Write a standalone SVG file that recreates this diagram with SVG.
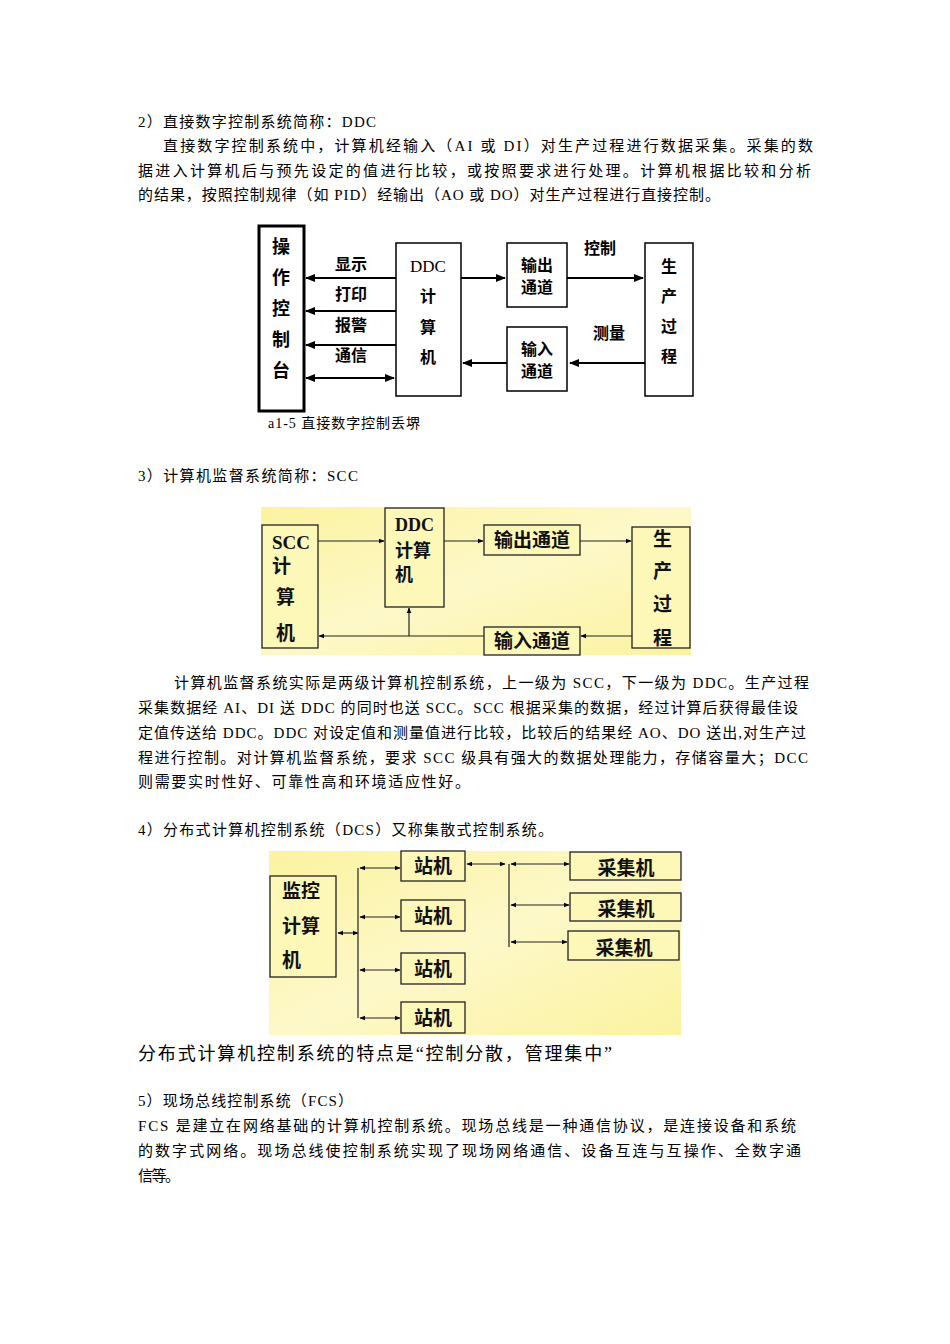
<svg xmlns="http://www.w3.org/2000/svg" width="950" height="1344" viewBox="0 0 950 1344">
<defs>
<marker id="a" viewBox="0 0 10 10" refX="9" refY="5" markerWidth="5" markerHeight="5" orient="auto-start-reverse"><path d="M0,1 L10,5 L0,9 z" fill="#000"/></marker>
<linearGradient id="y" x1="0" y1="0" x2="1" y2="1"><stop offset="0" stop-color="#fbf3a0"/><stop offset="0.5" stop-color="#fdf8c8"/><stop offset="1" stop-color="#fbf3a0"/></linearGradient>
<style>
.t{font-family:"Liberation Serif","Noto Sans CJK SC",serif;font-size:15px;fill:#000}
.b{fill:#fff;stroke:#000;stroke-width:1.5}
.bb{fill:#fff;stroke:#000;stroke-width:3}
.yb{fill:#fdf7b8;stroke:#222;stroke-width:1.3}
.l{stroke:#000;stroke-width:2;fill:none}
.l2{stroke:#222;stroke-width:1.2;fill:none}
.k{font-family:"Noto Sans CJK SC",sans-serif;font-weight:bold;font-size:16px;fill:#000}
.k2{font-family:"Noto Sans CJK SC",serif;font-weight:bold;font-size:19px;fill:#111}
</style>
</defs>
<rect width="950" height="1344" fill="#fff"/>
<g id="text1" class="t" lengthAdjust="spacing">
<text x="138" y="127" textLength="238">2）直接数字控制系统简称：DDC</text>
<text x="163" y="151" textLength="650">直接数字控制系统中，计算机经输入（AI 或 DI）对生产过程进行数据采集。采集的数</text>
<text x="138" y="176" textLength="673">据进入计算机后与预先设定的值进行比较，或按照要求进行处理。计算机根据比较和分析</text>
<text x="138" y="200" textLength="582">的结果，按照控制规律（如 PID）经输出（AO 或 DO）对生产过程进行直接控制。</text>
<text x="268" y="428" style="font-size:14px" textLength="152">a1-5 直接数字控制丢堺</text>
<text x="138" y="481" textLength="220">3）计算机监督系统简称：SCC</text>
<text x="174" y="688" textLength="635">计算机监督系统实际是两级计算机控制系统，上一级为 SCC，下一级为 DDC。生产过程</text>
<text x="138" y="713" textLength="660">采集数据经 AI、DI 送 DDC 的同时也送 SCC。SCC 根据采集的数据，经过计算后获得最佳设</text>
<text x="138" y="738" textLength="668">定值传送给 DDC。DDC 对设定值和测量值进行比较，比较后的结果经 AO、DO 送出,对生产过</text>
<text x="138" y="763" textLength="670">程进行控制。对计算机监督系统，要求 SCC 级具有强大的数据处理能力，存储容量大；DCC</text>
<text x="138" y="787" textLength="332">则需要实时性好、可靠性高和环境适应性好。</text>
<text x="138" y="835" textLength="415">4）分布式计算机控制系统（DCS）又称集散式控制系统。</text>
<text x="138" y="1060" style="font-size:18px" textLength="474">分布式计算机控制系统的特点是“控制分散，管理集中”</text>
<text x="138" y="1106" textLength="215">5）现场总线控制系统（FCS）</text>
<text x="138" y="1131" textLength="658">FCS 是建立在网络基础的计算机控制系统。现场总线是一种通信协议，是连接设备和系统</text>
<text x="138" y="1156" textLength="663">的数字式网络。现场总线使控制系统实现了现场网络通信、设备互连与互操作、全数字通</text>
<text x="138" y="1181" textLength="42">信等。</text>
</g>
<!-- Diagram 1 -->
<g id="d1-console"><rect class="bb" x="259" y="226" width="45" height="185"/>
<text class="k" x="272" y="253" style="font-size:18px">操</text><text class="k" x="272" y="284" style="font-size:18px">作</text><text class="k" x="272" y="315" style="font-size:18px">控</text><text class="k" x="272" y="346" style="font-size:18px">制</text><text class="k" x="272" y="377" style="font-size:18px">台</text></g>
<g id="d1-ddc"><rect class="b" x="396" y="243" width="65" height="153"/>
<text class="t" x="428" y="272" text-anchor="middle" style="font-size:17px">DDC</text><text class="k" x="428" y="302" text-anchor="middle">计</text><text class="k" x="428" y="333" text-anchor="middle">算</text><text class="k" x="428" y="363" text-anchor="middle">机</text></g>
<g id="d1-out"><rect class="b" x="507" y="243" width="60" height="64"/><text class="k" x="537" y="271" text-anchor="middle">输出</text><text class="k" x="537" y="293" text-anchor="middle">通道</text></g>
<g id="d1-in"><rect class="b" x="507" y="327" width="60" height="64"/><text class="k" x="537" y="355" text-anchor="middle">输入</text><text class="k" x="537" y="377" text-anchor="middle">通道</text></g>
<g id="d1-proc"><rect class="b" x="645" y="243" width="48" height="153"/>
<text class="k" x="669" y="272" text-anchor="middle">生</text><text class="k" x="669" y="302" text-anchor="middle">产</text><text class="k" x="669" y="332" text-anchor="middle">过</text><text class="k" x="669" y="362" text-anchor="middle">程</text></g>
<g id="d1-connectors">
<line class="l" x1="396" y1="278" x2="306" y2="278" marker-end="url(#a)"/>
<line class="l" x1="396" y1="311" x2="306" y2="311" marker-end="url(#a)"/>
<line class="l" x1="396" y1="345" x2="306" y2="345" marker-end="url(#a)"/>
<line class="l" x1="306" y1="378" x2="394" y2="378" marker-start="url(#a)" marker-end="url(#a)"/>
<line class="l" x1="461" y1="278" x2="505" y2="278" marker-end="url(#a)"/>
<line class="l" x1="567" y1="278" x2="643" y2="278" marker-end="url(#a)"/>
<line class="l" x1="645" y1="363" x2="570" y2="363" marker-end="url(#a)"/>
<line class="l" x1="507" y1="363" x2="463" y2="363" marker-end="url(#a)"/>
<text class="k" x="335" y="270">显示</text><text class="k" x="335" y="300">打印</text><text class="k" x="335" y="331">报警</text><text class="k" x="335" y="361">通信</text>
<text class="k" x="584" y="254">控制</text><text class="k" x="593" y="339">测量</text>
</g>
<!-- Diagram 2 -->
<rect x="261" y="507" width="430" height="148" fill="url(#y)"/>
<g id="d2-scc"><rect class="yb" x="262" y="525" width="56" height="123"/>
<text class="k2" x="272" y="549" style="font-family:'Liberation Serif',serif">SCC</text><text class="k2" x="272" y="573">计</text><text class="k2" x="276" y="604">算</text><text class="k2" x="276" y="640">机</text></g>
<g id="d2-ddc"><rect class="yb" x="385" y="508" width="59" height="99"/>
<text class="k2" x="395" y="531" style="font-family:'Liberation Serif',serif;font-size:18px">DDC</text><text class="k2" x="395" y="557" style="font-size:18px">计算</text><text class="k2" x="395" y="581" style="font-size:18px">机</text></g>
<g id="d2-out"><rect class="yb" x="484" y="525" width="96" height="30"/><text class="k2" x="532" y="547" text-anchor="middle">输出通道</text></g>
<g id="d2-in"><rect class="yb" x="484" y="627" width="96" height="28"/><text class="k2" x="532" y="648" text-anchor="middle">输入通道</text></g>
<g id="d2-proc"><rect class="yb" x="632" y="527" width="58" height="121"/>
<text class="k2" x="653" y="546">生</text><text class="k2" x="653" y="578">产</text><text class="k2" x="653" y="611">过</text><text class="k2" x="653" y="645">程</text></g>
<g id="d2-connectors">
<line class="l2" x1="318" y1="541" x2="384" y2="541" marker-end="url(#a)"/>
<line class="l2" x1="444" y1="541" x2="483" y2="541" marker-end="url(#a)"/>
<line class="l2" x1="580" y1="541" x2="631" y2="541" marker-end="url(#a)"/>
<line class="l2" x1="632" y1="636" x2="581" y2="636" marker-end="url(#a)"/>
<line class="l2" x1="484" y1="636" x2="319" y2="636" marker-end="url(#a)"/>
<line class="l2" x1="409" y1="636" x2="409" y2="608" marker-end="url(#a)"/>
</g>
<!-- Diagram 3 -->
<rect x="269" y="851" width="412" height="184" fill="url(#y)"/>
<g id="d3-main"><rect class="yb" x="270" y="876" width="66" height="101"/>
<text class="k2" x="282" y="898">监控</text><text class="k2" x="282" y="933">计算</text><text class="k2" x="282" y="967">机</text></g>
<g id="d3-s1"><rect class="yb" x="401" y="851" width="64" height="30"/><text class="k2" x="433" y="873" text-anchor="middle">站机</text></g>
<g id="d3-s2"><rect class="yb" x="401" y="900" width="64" height="31"/><text class="k2" x="433" y="923" text-anchor="middle">站机</text></g>
<g id="d3-s3"><rect class="yb" x="401" y="953" width="64" height="31"/><text class="k2" x="433" y="976" text-anchor="middle">站机</text></g>
<g id="d3-s4"><rect class="yb" x="401" y="1002" width="64" height="31"/><text class="k2" x="433" y="1025" text-anchor="middle">站机</text></g>
<g id="d3-c1"><rect class="yb" x="570" y="852" width="111" height="28"/><text class="k2" x="626" y="875" text-anchor="middle">采集机</text></g>
<g id="d3-c2"><rect class="yb" x="570" y="893" width="111" height="28"/><text class="k2" x="626" y="916" text-anchor="middle">采集机</text></g>
<g id="d3-c3"><rect class="yb" x="568" y="931" width="111" height="29"/><text class="k2" x="624" y="955" text-anchor="middle">采集机</text></g>
<g id="d3-connectors">
<line class="l2" x1="338" y1="933" x2="358" y2="933" marker-start="url(#a)" marker-end="url(#a)"/>
<line class="l2" x1="358" y1="868" x2="358" y2="1018"/>
<line class="l2" x1="360" y1="868" x2="400" y2="868" marker-start="url(#a)" marker-end="url(#a)"/>
<line class="l2" x1="360" y1="917" x2="400" y2="917" marker-start="url(#a)" marker-end="url(#a)"/>
<line class="l2" x1="360" y1="970" x2="400" y2="970" marker-start="url(#a)" marker-end="url(#a)"/>
<line class="l2" x1="360" y1="1018" x2="400" y2="1018" marker-start="url(#a)" marker-end="url(#a)"/>
<line class="l2" x1="467" y1="864" x2="505" y2="864" marker-start="url(#a)" marker-end="url(#a)"/>
<line class="l2" x1="509" y1="864" x2="509" y2="947"/>
<line class="l2" x1="511" y1="864" x2="569" y2="864" marker-start="url(#a)" marker-end="url(#a)"/>
<line class="l2" x1="511" y1="905" x2="569" y2="905" marker-start="url(#a)" marker-end="url(#a)"/>
<line class="l2" x1="511" y1="942" x2="567" y2="942" marker-start="url(#a)" marker-end="url(#a)"/>
</g>
</svg>
